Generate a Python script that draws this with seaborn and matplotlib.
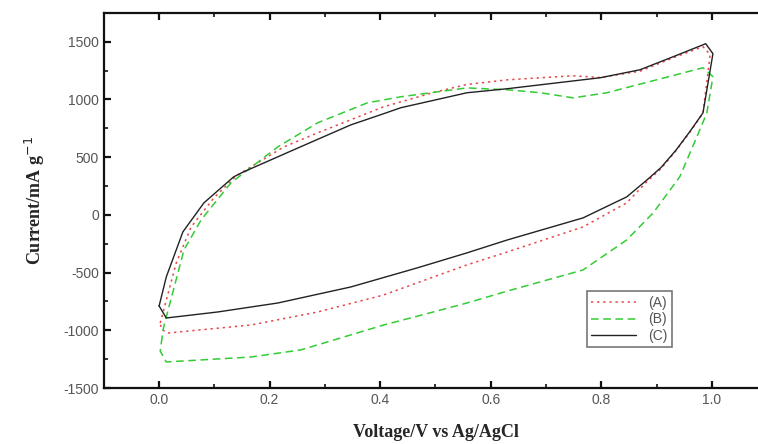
import numpy as np
import pandas as pd
import matplotlib
matplotlib.use("Agg")
import matplotlib.pyplot as plt
from matplotlib.ticker import MultipleLocator
import seaborn as sns

# digitised CV loops (anodic sweep 0 -> 1 V, then cathodic sweep back)
volt_a = [0.002, 0.031, 0.058, 0.099, 0.14, 0.226, 0.287, 0.406, 0.496, 0.557, 0.630,
          0.749, 0.798, 0.870, 0.930, 0.984, 0.997, 0.984, 0.960, 0.935, 0.908, 0.882,
          0.846, 0.767, 0.630, 0.557, 0.406, 0.287, 0.166, 0.016, 0.004, 0.002]
curr_a = [-936, -416, -104, 147, 340, 590, 711, 936, 1060, 1130, 1170,
          1205, 1190, 1245, 1361, 1457, 1390, 880, 715, 555, 400, 285,
          104, -104, -321, -433, -694, -841, -954, -1023, -990, -936]

volt_b = [0.004, 0.007, 0.013, 0.045, 0.076, 0.130, 0.215, 0.287, 0.377, 0.437, 0.557,
          0.630, 0.690, 0.749, 0.810, 0.900, 0.984, 1.002, 0.991, 0.975, 0.942, 0.894,
          0.846, 0.767, 0.630, 0.557, 0.496, 0.406, 0.316, 0.256, 0.166, 0.013, 0.002,
          0.004]
curr_b = [-1110, -997, -884, -303, -43, 278, 590, 798, 971, 1023, 1100,
          1084, 1058, 1014, 1058, 1170, 1275, 1197, 884, 700, 330, 18,
          -217, -477, -660, -763, -841, -954, -1084, -1170, -1231, -1274, -1180,
          -1110]

volt_c = [0.0, 0.013, 0.043, 0.081, 0.135, 0.153, 0.256, 0.347, 0.406, 0.437, 0.557,
          0.630, 0.720, 0.798, 0.870, 0.930, 0.989, 1.002, 0.984, 0.960, 0.935, 0.908,
          0.882, 0.846, 0.767, 0.630, 0.557, 0.467, 0.347, 0.215, 0.106, 0.013, 0.0]
curr_c = [-789, -537, -147, 104, 330, 373, 590, 780, 876, 928, 1058,
          1093, 1144, 1188, 1257, 1370, 1483, 1396, 884, 720, 560, 410,
          300, 156, -26, -217, -329, -459, -624, -763, -841, -893, -789]

labels = ["(A)", "(B)", "(C)"]

sns.set_style("ticks")
plt.rcParams["font.family"] = ["Liberation Sans", "DejaVu Sans"]
plt.rcParams["axes.unicode_minus"] = False

fig = plt.figure(figsize=(7.58, 4.44), dpi=100)
ax = fig.add_axes([0.137, 0.126, 0.875, 0.845])

sns.lineplot(x=volt_a, y=curr_a, sort=False, estimator=None, ax=ax, color="#e8474b",
             linestyle=(0, (1.5, 2.5)), linewidth=1.1, label=labels[0])
sns.lineplot(x=volt_b, y=curr_b, sort=False, estimator=None, ax=ax, color="#33cc33",
             linestyle=(0, (5, 3)), linewidth=1.1, label=labels[1])
sns.lineplot(x=volt_c, y=curr_c, sort=False, estimator=None, ax=ax, color="#222222",
             linestyle="-", linewidth=1.0, label=labels[2])

ax.set_xlim(-0.1, 1.1)
ax.set_ylim(-1500, 1750)
ax.xaxis.set_minor_locator(MultipleLocator(0.1))
ax.yaxis.set_major_locator(MultipleLocator(500))
ax.yaxis.set_minor_locator(MultipleLocator(250))
ax.set_xticks([0.0, 0.2, 0.4, 0.6, 0.8, 1.0])
ax.set_xticklabels(["0.0", "0.2", "0.4", "0.6", "0.8", "1.0"])

for s in ax.spines.values():
    s.set_linewidth(1.6)
    s.set_color("#111111")
ax.tick_params(which="both", direction="in", top=True, right=True,
               colors="#111111", labelcolor="#555555", labelsize=10)
ax.tick_params(which="major", length=5, width=1.6)
ax.tick_params(which="minor", length=3, width=1.2)

ax.set_xlabel("Voltage/V vs Ag/AgCl", fontfamily="Liberation Serif",
              fontweight="bold", fontsize=13, labelpad=12)
ax.set_ylabel("Current/mA g$^{-1}$", fontfamily="Liberation Serif",
              fontweight="bold", fontsize=13, labelpad=12)

leg = ax.legend(loc="lower left", bbox_to_anchor=(0.718, 0.09), fontsize=10,
                frameon=True, fancybox=False, edgecolor="#555555",
                handlelength=3.2, borderpad=0.3, labelspacing=0.2,
                handletextpad=0.9)
leg.get_frame().set_linewidth(1.2)
for t in leg.get_texts():
    t.set_color("#555555")

fig.savefig("out.png", dpi=100)
